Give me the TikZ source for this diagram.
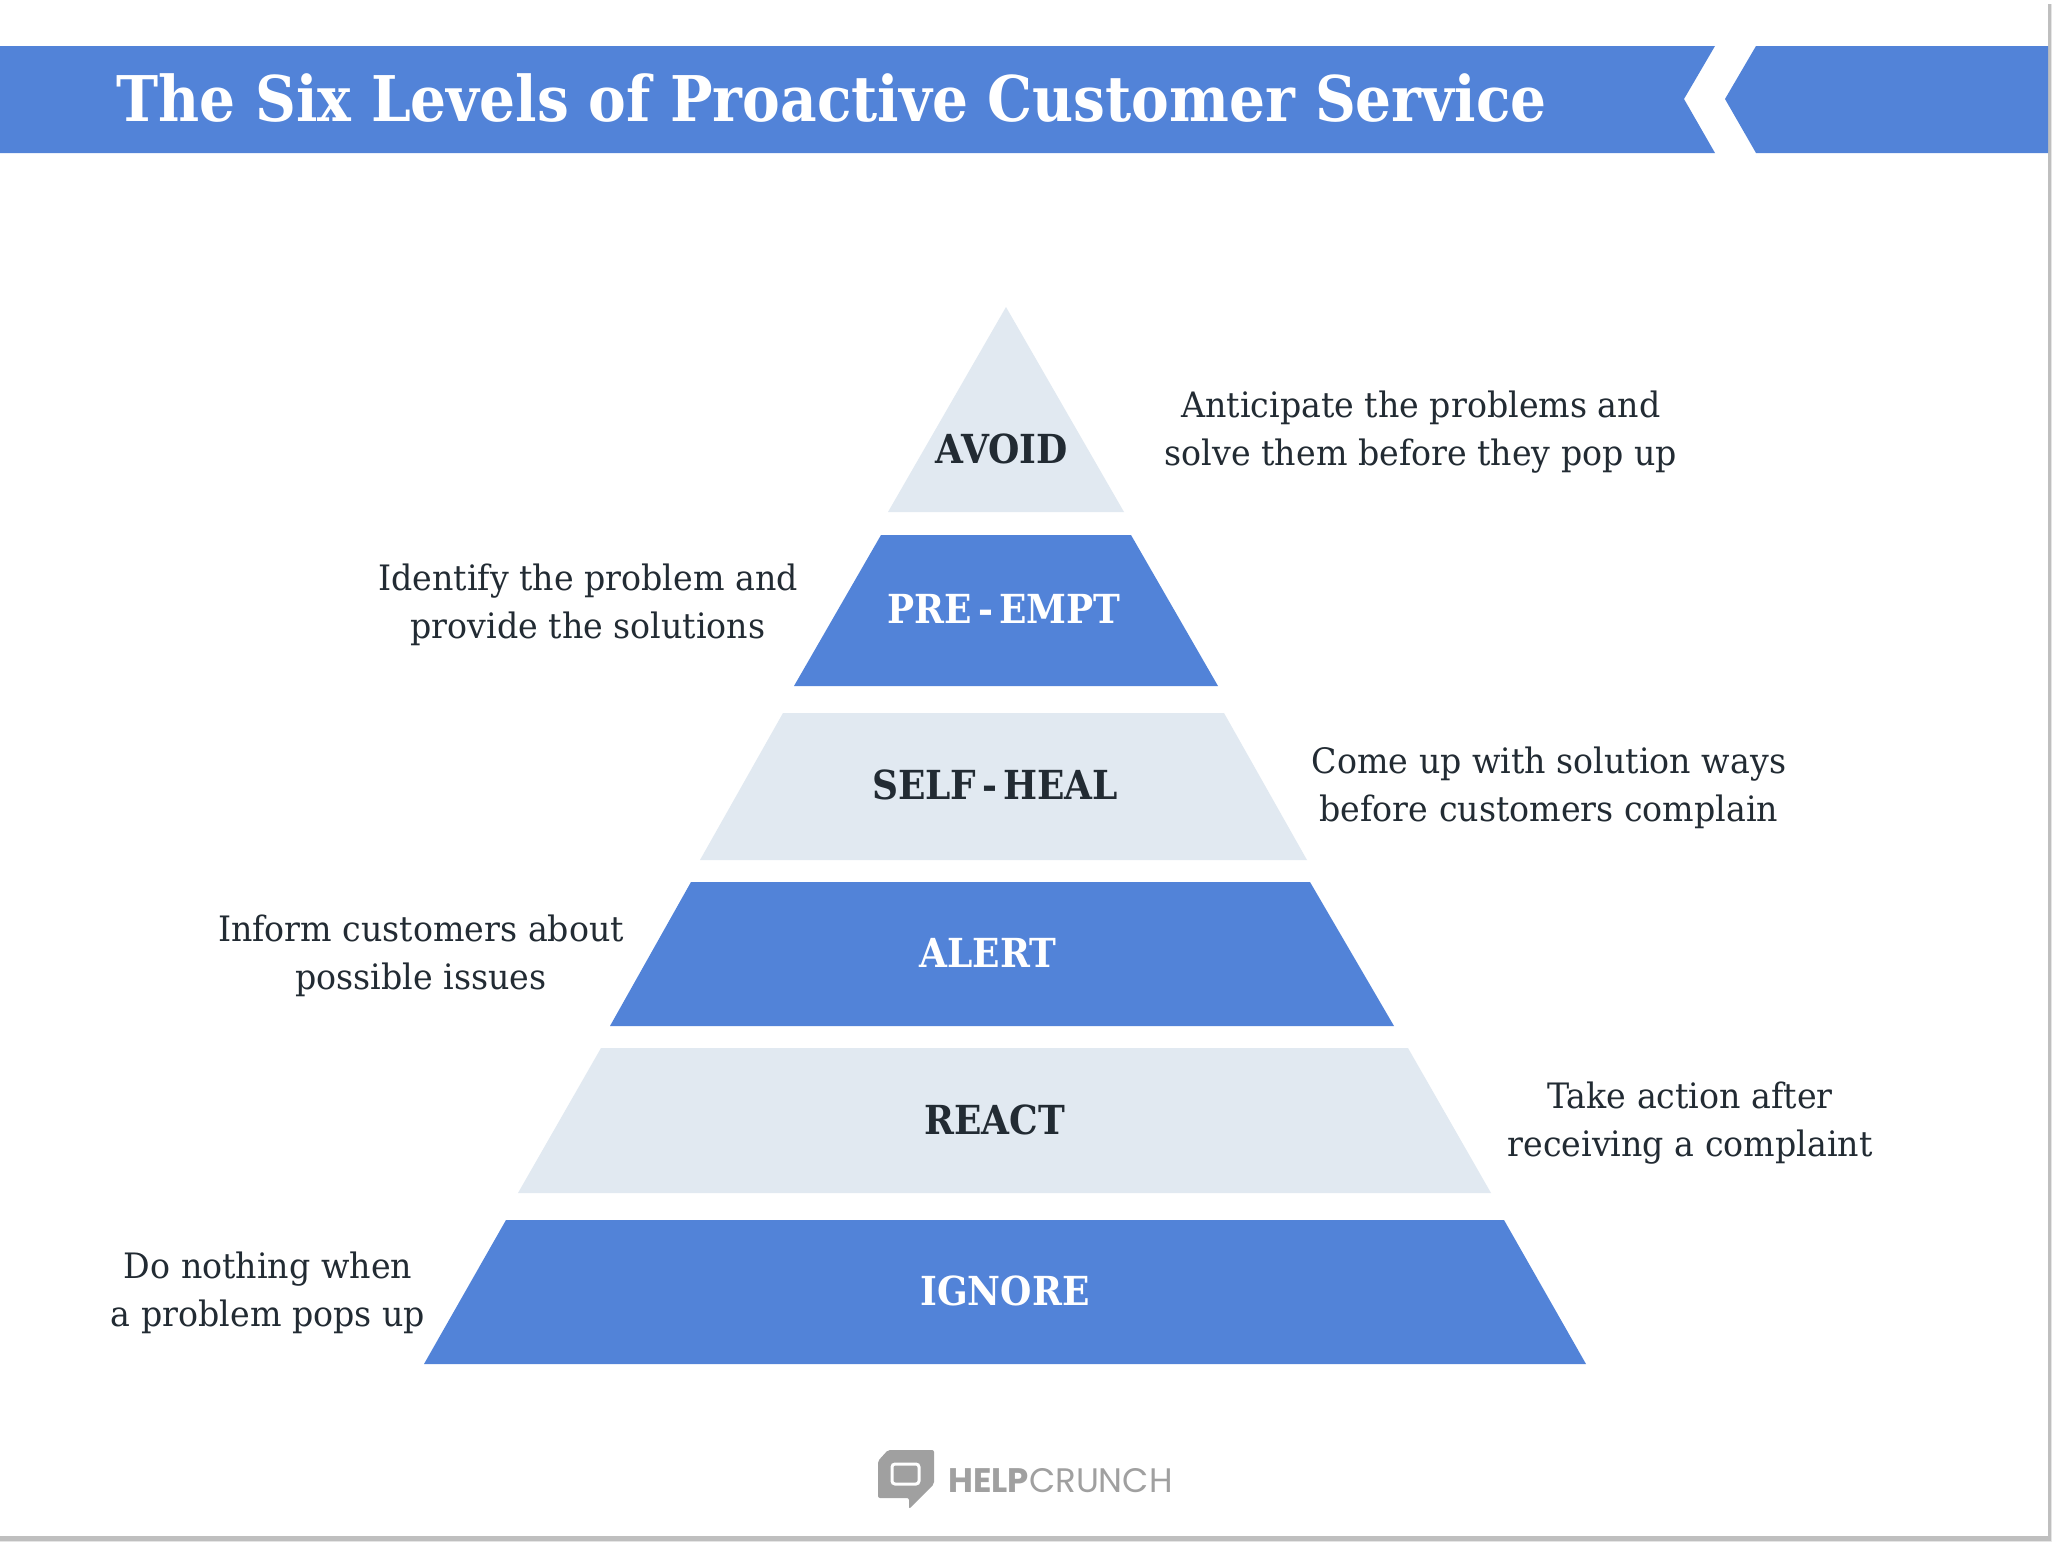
\documentclass[tikz,border=0pt]{standalone}
\usepackage{fontspec}
\setmainfont{DejaVu Serif}
\newfontfamily\logofont{Poppins}
\newfontfamily\titlefont[FakeStretch=0.898]{DejaVu Serif}
\newfontfamily\levelfont[FakeStretch=0.9]{DejaVu Serif}
\newfontfamily\notefont[FakeStretch=0.95]{DejaVu Serif}
\usepackage{xcolor}
\definecolor{banner-blue}{HTML}{5283D8}
\definecolor{pale-blue}{HTML}{E1E9F1}
\definecolor{ink}{HTML}{222B33}
\definecolor{logo-gray}{HTML}{A0A0A0}
\tikzset{
    dark-level/.style = {fill=banner-blue},
    pale-level/.style = {fill=pale-blue},
    level-title/.style = {font=\levelfont\fontsize{20}{24}\selectfont\bfseries, inner sep=0pt},
    level-note/.style = {font=\notefont\fontsize{17.5}{24}\selectfont, text=ink, align=center, inner sep=0pt},
}

\begin{document}
\begin{tikzpicture}[x=0.5pt, y=-0.5pt]
\useasboundingbox (0,0) rectangle (2052,1542);
\fill[white] (0,0) rectangle (2052,1542);
% frame
\fill[black!8] (2051,4) rectangle (2052,1542) (0,1541) rectangle (2052,1542);
\fill[black!25] (2048,4) rectangle (2051,1541) (0,1536) rectangle (2051,1541);
% banner
\fill[dark-level] (0,46) -- (1715,46) -- (1684,99) -- (1715,153) -- (0,153) -- cycle;
\fill[dark-level] (1756,46) -- (2048,46) -- (2048,153) -- (1756,153) -- (1725,99) -- cycle;
\node[anchor=west, text=white, font=\titlefont\fontsize{31.5}{38}\selectfont\bfseries, inner sep=0pt] (title) at (116,98) {The Six Levels of Proactive Customer Service};
% pyramid
\fill[pale-level] (1006,307) -- (1124,512) -- (888,512) -- cycle;
\fill[dark-level] (881,535) -- (1131,535) -- (1218,686) -- (794,686) -- cycle;
\fill[pale-level] (783,713) -- (1224,713) -- (1307,860) -- (700,860) -- cycle;
\fill[dark-level] (691,882) -- (1310,882) -- (1394,1026) -- (610,1026) -- cycle;
\fill[pale-level] (601,1048) -- (1408,1048) -- (1491,1193) -- (518,1193) -- cycle;
\fill[dark-level] (506,1220) -- (1504,1220) -- (1586,1364) -- (424,1364) -- cycle;
\node[level-title, text=ink] (avoid) at (1002,449) {AVOID};
\node[level-title, text=white] (preempt) at (1004,609) {PRE\kern3pt-\kern3pt EMPT};
\node[level-title, text=ink] (selfheal) at (995,785) {SELF\kern3pt-\kern3pt HEAL};
\node[level-title, text=white] (alert) at (988,953) {ALERT};
\node[level-title, text=ink] (react) at (995,1120) {REACT};
\node[level-title, text=white] (ignore) at (1005,1291) {IGNORE};
% notes
\node[level-note] (avoid-note) at (1421,432) {Anticipate the problems and\\solve them before they pop up};
\node[level-note] (preempt-note) at (588,605) {Identify the problem and\\provide the solutions};
\node[level-note] (selfheal-note) at (1549,788) {Come up with solution ways\\before customers complain};
\node[level-note] (alert-note) at (421,956) {Inform customers about\\possible issues};
\node[level-note] (react-note) at (1690,1123) {Take action after\\receiving a complaint};
\node[level-note] (ignore-note) at (268,1293) {Do nothing when\\a problem pops up};
% logo
\fill[logo-gray, rounded corners=1pt] (878,1461) -- (888,1450) -- (934,1450) -- (934,1484) -- (909,1509) -- (909,1498) -- (878,1498) -- cycle;
\draw[white, line width=1.5pt, rounded corners=1.5pt] (892,1464) rectangle (919,1484);
\node[anchor=west, text=logo-gray, font=\logofont\fontsize{17}{20}\selectfont, inner sep=0pt] (logo) at (948,1481) {\textbf{HELP}CRUNCH};
\end{tikzpicture}
\end{document}
